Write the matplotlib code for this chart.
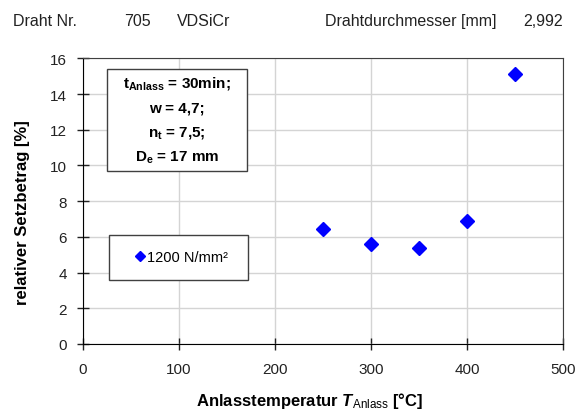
import matplotlib
matplotlib.use("Agg")
import matplotlib.pyplot as plt
from matplotlib.patches import Rectangle

plt.rcParams['font.family'] = ['Liberation Sans', 'DejaVu Sans']
plt.rcParams['mathtext.fontset'] = 'custom'
plt.rcParams['mathtext.rm'] = 'Liberation Sans'
plt.rcParams['mathtext.it'] = 'Liberation Sans:italic'
plt.rcParams['mathtext.bf'] = 'Liberation Sans:bold'
plt.rcParams['mathtext.bfit'] = 'Liberation Sans:italic:bold'

# Messwerte
anlass_temp = [250, 300, 350, 400, 450]
setzbetrag = [6.45, 5.6, 5.4, 6.9, 15.1]
serie_label = '1200 N/mm²'

kopf_texte = [('Draht Nr.', 13), ('705', 124), ('VDSiCr', 177),
              ('Drahtdurchmesser [mm]', 325), ('2,992', 523)]
info_zeilen = [r'$\mathbf{t}_{\mathbf{Anlass}}$ = 30min;',
               'w = 4,7;',
               r'$\mathbf{n}_{\mathbf{t}}$ = 7,5;',
               r'$\mathbf{D}_{\mathbf{e}}$ = 17 mm']

W, H = 583, 410
fig = plt.figure(figsize=(W / 100, H / 100), dpi=100)
ax = fig.add_axes([82.7 / W, 1 - 345 / H, (563 - 82.7) / W, (345 - 59.3) / H])

ax.plot(anlass_temp, setzbetrag, linestyle='none', marker='D', markersize=6.8,
        color='#0000ff', label=serie_label, zorder=3)

ax.set_xlim(0, 500)
ax.set_ylim(0, 16)
ax.set_xticks(range(0, 501, 100))
ax.set_yticks(range(0, 17, 2))
ax.grid(True, color='#d4d4d4', linewidth=1.0)
ax.set_axisbelow(True)
ax.tick_params(direction='inout', length=9, width=1, labelsize=11, colors='#222222')
ax.tick_params(axis='x', pad=8.5)
ax.tick_params(axis='y', pad=7)
for side in ['left', 'bottom']:
    ax.spines[side].set_color('black')
for side in ['top', 'right']:
    ax.spines[side].set_color('#404040')

ax.set_ylabel('relativer Setzbetrag [%]', fontsize=12, fontweight='bold')
ax.yaxis.set_label_coords(-0.11, 0.462)
ax.set_xlabel(r'Anlasstemperatur $\mathbfit{T}_{\mathrm{Anlass}}$ [°C]', fontsize=12,
              fontweight='bold')
ax.xaxis.set_label_coords(0.473, -0.16)

# Kasten mit Parametern
x0, x1 = (106.7 - 82.7) / 480.3, (246.7 - 82.7) / 480.3
y0, y1 = (345 - 171.7) / 285.7, (345 - 70) / 285.7
ax.add_patch(Rectangle((x0, y0), x1 - x0, y1 - y0, transform=ax.transAxes,
                       facecolor='white', edgecolor='#404040', linewidth=1, zorder=4))
for i, zeile in enumerate(info_zeilen):
    yp = (345 - (84 + i * 24.5)) / 285.7
    ax.text((x0 + x1) / 2, yp, zeile, transform=ax.transAxes, ha='center', va='center',
            fontsize=11, fontweight='bold', zorder=5)

# Legende
lx0, lx1 = (109 - 82.7) / 480.3, (248 - 82.7) / 480.3
ly0, ly1 = (345 - 281) / 285.7, (345 - 236) / 285.7
ax.add_patch(Rectangle((lx0, ly0), lx1 - lx0, ly1 - ly0, transform=ax.transAxes,
                       facecolor='white', edgecolor='#404040', linewidth=1, zorder=4))
leg = ax.legend(loc='center', bbox_to_anchor=((lx0 + lx1) / 2 + 0.0075, (ly0 + ly1) / 2),
                frameon=False, fontsize=10.5, markerscale=0.7, handlelength=0.6,
                handletextpad=0.2)
leg.set_zorder(5)

for text, xp in kopf_texte:
    fig.text(xp / W, 1 - 26 / H, text, fontsize=11.5, ha='left', va='baseline',
             color='#222222')

fig.savefig('out.png', dpi=100)
